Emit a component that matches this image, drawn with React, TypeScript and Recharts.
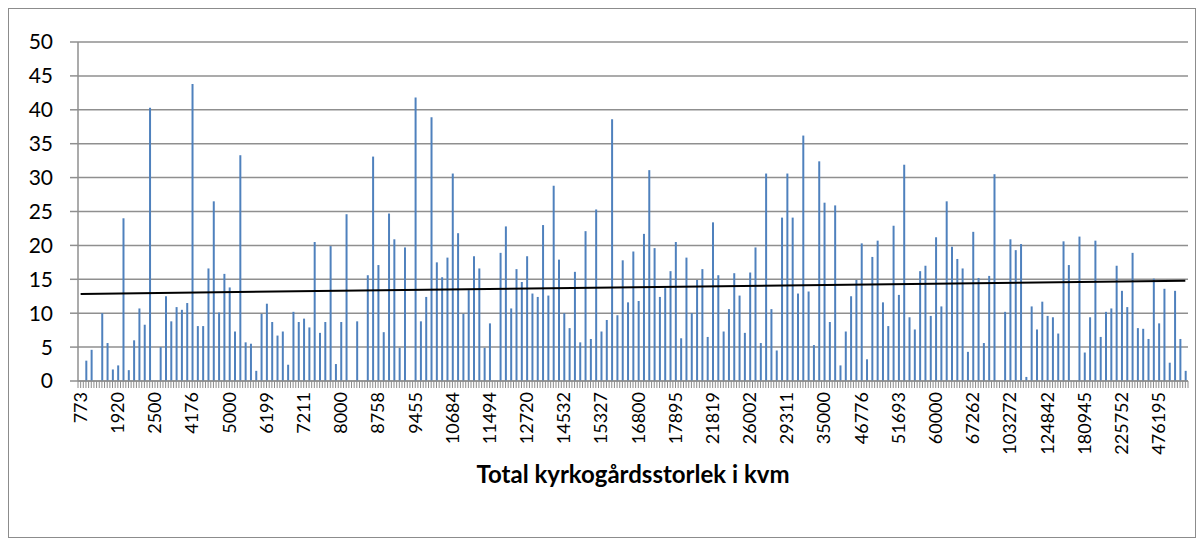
import { BarChart, Bar, XAxis, YAxis, CartesianGrid, ReferenceLine, Label } from 'recharts';

// one label every 7th category
const tickLabels = [
  '773', '1920', '2500', '4176', '5000', '6199', '7211', '8000', '8758', '9455',
  '10684', '11494', '12720', '14532', '15327', '16800', '17895', '21819', '26002', '29311',
  '35000', '46776', '51693', '60000', '67262', '103272', '124842', '180945', '225752', '476195',
];

const values: (number | null)[] = [
  null, 3.0, 4.6, null, 10.0, 5.6, 1.7, 2.3, 24.0, 1.6,
  6.0, 10.7, 8.3, 40.3, null, 5.0, 12.5, 8.8, 10.9, 10.5,
  11.5, 43.8, 8.1, 8.1, 16.6, 26.5, 10.1, 15.8, 13.8, 7.3,
  33.3, 5.7, 5.5, 1.5, 9.9, 11.4, 8.7, 6.7, 7.3, 2.4,
  10.2, 8.7, 9.2, 7.9, 20.5, 7.1, 8.7, 19.9, 2.5, 8.7,
  24.6, null, 8.8, null, 15.6, 33.1, 17.1, 7.2, 24.7, 20.9,
  4.9, 19.7, null, 41.8, 8.8, 12.4, 38.9, 17.5, 15.3, 18.2,
  30.6, 21.8, 9.9, 13.4, 18.4, 16.6, 4.9, 8.5, null, 18.9,
  22.8, 10.7, 16.5, 14.6, 18.4, 12.9, 12.4, 23.0, 12.6, 28.8,
  17.9, 10.0, 7.8, 16.1, 5.7, 22.1, 6.2, 25.3, 7.3, 9.0,
  38.6, 9.7, 17.8, 11.6, 19.1, 11.8, 21.7, 31.1, 19.6, 12.4,
  13.7, 16.2, 20.5, 6.3, 18.2, 10.0, 14.9, 16.5, 6.5, 23.4,
  15.6, 7.3, 10.6, 15.9, 12.6, 7.1, 16.0, 19.7, 5.6, 30.6,
  10.6, 4.5, 24.1, 30.6, 24.1, 12.9, 36.2, 13.2, 5.3, 32.4,
  26.3, 8.7, 25.9, 2.3, 7.3, 12.5, 14.9, 20.3, 3.2, 18.3,
  20.7, 11.6, 8.1, 22.9, 12.7, 31.9, 9.4, 7.6, 16.2, 17.0,
  9.6, 21.2, 11.0, 26.5, 19.8, 18.0, 16.6, 4.3, 22.0, 15.2,
  5.6, 15.5, 30.5, null, 10.2, 20.9, 19.3, 20.2, 0.6, 11.0,
  7.6, 11.7, 9.6, 9.4, 7.0, 20.6, 17.1, null, 21.3, 4.2,
  9.4, 20.7, 6.5, 10.2, 10.7, 17.0, 13.3, 10.9, 18.9, 7.8,
  7.7, 6.2, 15.1, 8.5, 13.6, 2.7, 13.3, 6.2, 1.5,
];

const yTicks = [0, 5, 10, 15, 20, 25, 30, 35, 40, 45, 50];

// linear trend line end points
const trendStart = 12.85;
const trendEnd = 14.8;

const data = values.map((v, i) => ({ idx: i, andel: v }));

const LABEL_STEP = 7;
const PLOT_W = 1110;
const catW = PLOT_W / values.length;

function XTick(props: any) {
  const { x, y, payload } = props;
  const i = payload.value as number;
  const showLabel = i % LABEL_STEP === 0;
  return (
    <g>
      <line x1={x - catW / 2} x2={x - catW / 2} y1={y} y2={y + 7} stroke="#8c8c8c" strokeWidth={1} />
      <line x1={x} x2={x} y1={y} y2={y + 7} stroke="#8c8c8c" strokeWidth={1} />
      {i === values.length - 1 && (
        <line x1={x + catW / 2} x2={x + catW / 2} y1={y} y2={y + 7} stroke="#8c8c8c" strokeWidth={1} />
      )}
      {showLabel && (
        <text
          x={x}
          y={y + 11}
          dy="0.35em"
          transform={`rotate(-90, ${x}, ${y + 11})`}
          textAnchor="end"
          fontSize={18}
          fill="#000"
        >
          {tickLabels[i / LABEL_STEP]}
        </text>
      )}
    </g>
  );
}

export default function App() {
  return (
    <div
      style={{
        width: 1188,
        height: 530,
        border: '1px solid #8c8c8c',
        boxSizing: 'border-box',
        fontFamily: 'Lato, sans-serif',
        background: '#fff',
      }}
    >
      <BarChart
        width={1186}
        height={528}
        data={data}
        margin={{ top: 33, right: 7, left: 9, bottom: 0 }}
        barCategoryGap={0}
      >
        <CartesianGrid horizontal vertical={false} stroke="#8f8f8f" strokeWidth={1.5} />
        <XAxis
          dataKey="idx"
          type="category"
          interval={0}
          height={156}
          tickSize={0}
          tickMargin={0}
          tickLine={false}
          axisLine={{ stroke: '#8f8f8f', strokeWidth: 1.5 }}
          tick={<XTick />}
        >
          <Label
            value="Total kyrkogårdsstorlek i kvm"
            position="insideBottom"
            offset={54}
            style={{ fontWeight: 700, fontSize: 24, fill: '#000' }}
          />
        </XAxis>
        <YAxis
          width={60}
          domain={[0, 50]}
          ticks={yTicks}
          interval={0}
          tickSize={8}
          tickMargin={17}
          tickLine={{ stroke: '#8f8f8f', strokeWidth: 1.5 }}
          axisLine={{ stroke: '#8f8f8f', strokeWidth: 1.5 }}
          tick={{ fill: '#000', fontSize: 21 }}
        />
        <Bar dataKey="andel" fill="#4f81bd" barSize={2} isAnimationActive={false} />
        <ReferenceLine
          segment={[
            { x: 0, y: trendStart },
            { x: values.length - 1, y: trendEnd },
          ]}
          stroke="#000"
          strokeWidth={2}
          ifOverflow="visible"
        />
      </BarChart>
    </div>
  );
}
